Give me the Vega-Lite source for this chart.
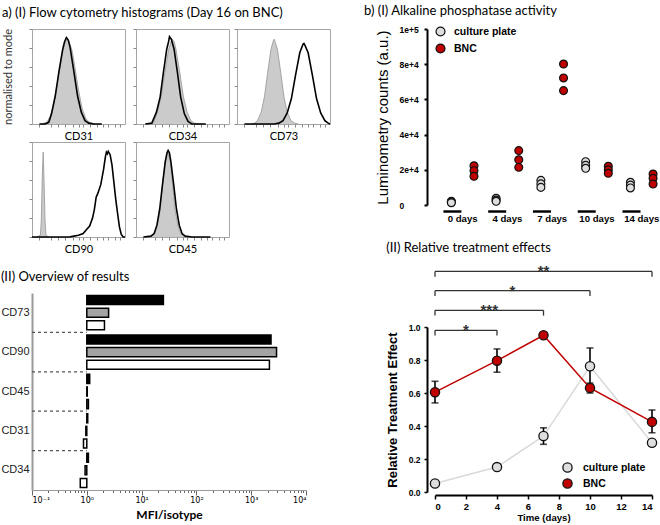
{
"$schema": "https://vega.github.io/schema/vega-lite/v6.json",
"padding": {"left": 0, "top": 5, "right": 0, "bottom": 0},
"config": {
 "font": "Liberation Sans",
 "view": {"stroke": null},
 "axis": {"grid": false, "labelColor": "black", "titleColor": "black"},
 "axisY": {"labelOverlap": false},
 "title": {"font": "Lato", "fontSize": 13, "fontWeight": "normal", "anchor": "start", "color": "black"}
},
"datasets": {
 "hist": [
  {"m":"CD31","s":"i","x":10,"y":0},{"m":"CD31","s":"i","x":16,"y":2},{"m":"CD31","s":"i","x":20,"y":10},{"m":"CD31","s":"i","x":25,"y":33},{"m":"CD31","s":"i","x":29,"y":60},{"m":"CD31","s":"i","x":32,"y":80},{"m":"CD31","s":"i","x":35,"y":94},{"m":"CD31","s":"i","x":37,"y":99},{"m":"CD31","s":"i","x":38,"y":100},{"m":"CD31","s":"i","x":40,"y":97},{"m":"CD31","s":"i","x":43,"y":87},{"m":"CD31","s":"i","x":46,"y":68},{"m":"CD31","s":"i","x":50,"y":40},{"m":"CD31","s":"i","x":54,"y":18},{"m":"CD31","s":"i","x":58,"y":6},{"m":"CD31","s":"i","x":62,"y":2},{"m":"CD31","s":"i","x":68,"y":0},
  {"m":"CD31","s":"s","x":8,"y":0},{"m":"CD31","s":"s","x":14,"y":0},{"m":"CD31","s":"s","x":18,"y":2},{"m":"CD31","s":"s","x":21,"y":12},{"m":"CD31","s":"s","x":25,"y":33},{"m":"CD31","s":"s","x":29,"y":62},{"m":"CD31","s":"s","x":33,"y":88},{"m":"CD31","s":"s","x":35,"y":97},{"m":"CD31","s":"s","x":37,"y":102},{"m":"CD31","s":"s","x":39,"y":99},{"m":"CD31","s":"s","x":41,"y":90},{"m":"CD31","s":"s","x":45,"y":62},{"m":"CD31","s":"s","x":49,"y":33},{"m":"CD31","s":"s","x":53,"y":14},{"m":"CD31","s":"s","x":57,"y":4},{"m":"CD31","s":"s","x":61,"y":1},{"m":"CD31","s":"s","x":66,"y":0},{"m":"CD31","s":"s","x":75,"y":0},
  {"m":"CD34","s":"i","x":14,"y":0},{"m":"CD34","s":"i","x":19,"y":2},{"m":"CD34","s":"i","x":23,"y":14},{"m":"CD34","s":"i","x":27,"y":32},{"m":"CD34","s":"i","x":31,"y":61},{"m":"CD34","s":"i","x":35,"y":88},{"m":"CD34","s":"i","x":38,"y":98},{"m":"CD34","s":"i","x":39,"y":100},{"m":"CD34","s":"i","x":41,"y":97},{"m":"CD34","s":"i","x":43,"y":88},{"m":"CD34","s":"i","x":47,"y":61},{"m":"CD34","s":"i","x":51,"y":32},{"m":"CD34","s":"i","x":55,"y":14},{"m":"CD34","s":"i","x":59,"y":4},{"m":"CD34","s":"i","x":63,"y":1},{"m":"CD34","s":"i","x":70,"y":0},
  {"m":"CD34","s":"s","x":10,"y":0},{"m":"CD34","s":"s","x":17,"y":1},{"m":"CD34","s":"s","x":22,"y":14},{"m":"CD34","s":"s","x":26,"y":32},{"m":"CD34","s":"s","x":29.5,"y":61},{"m":"CD34","s":"s","x":33,"y":88},{"m":"CD34","s":"s","x":35,"y":97},{"m":"CD34","s":"s","x":36,"y":103},{"m":"CD34","s":"s","x":38,"y":100},{"m":"CD34","s":"s","x":41,"y":88},{"m":"CD34","s":"s","x":44.5,"y":61},{"m":"CD34","s":"s","x":48,"y":32},{"m":"CD34","s":"s","x":52,"y":12},{"m":"CD34","s":"s","x":56,"y":3},{"m":"CD34","s":"s","x":60,"y":0},{"m":"CD34","s":"s","x":75,"y":0},
  {"m":"CD73","s":"i","x":15,"y":0},{"m":"CD73","s":"i","x":19,"y":1},{"m":"CD73","s":"i","x":22,"y":4},{"m":"CD73","s":"i","x":26,"y":14},{"m":"CD73","s":"i","x":29.5,"y":32},{"m":"CD73","s":"i","x":33,"y":61},{"m":"CD73","s":"i","x":36.5,"y":88},{"m":"CD73","s":"i","x":39,"y":98},{"m":"CD73","s":"i","x":40,"y":100},{"m":"CD73","s":"i","x":41,"y":97},{"m":"CD73","s":"i","x":43.5,"y":88},{"m":"CD73","s":"i","x":47,"y":61},{"m":"CD73","s":"i","x":50.5,"y":32},{"m":"CD73","s":"i","x":54,"y":14},{"m":"CD73","s":"i","x":58,"y":4},{"m":"CD73","s":"i","x":62,"y":1},{"m":"CD73","s":"i","x":66,"y":0},
  {"m":"CD73","s":"s","x":8,"y":0},{"m":"CD73","s":"s","x":40,"y":0},{"m":"CD73","s":"s","x":45,"y":1},{"m":"CD73","s":"s","x":49.5,"y":4},{"m":"CD73","s":"s","x":54,"y":13},{"m":"CD73","s":"s","x":58.5,"y":30},{"m":"CD73","s":"s","x":63,"y":58},{"m":"CD73","s":"s","x":67.5,"y":84},{"m":"CD73","s":"s","x":71,"y":94},{"m":"CD73","s":"s","x":72,"y":95},{"m":"CD73","s":"s","x":73,"y":93},{"m":"CD73","s":"s","x":76.5,"y":84},{"m":"CD73","s":"s","x":81,"y":58},{"m":"CD73","s":"s","x":85.5,"y":30},{"m":"CD73","s":"s","x":90,"y":13},{"m":"CD73","s":"s","x":94.5,"y":4},{"m":"CD73","s":"s","x":98,"y":1},{"m":"CD73","s":"s","x":100,"y":0},
  {"m":"CD90","s":"i","x":5,"y":0},{"m":"CD90","s":"i","x":9,"y":2},{"m":"CD90","s":"i","x":10,"y":20},{"m":"CD90","s":"i","x":11,"y":70},{"m":"CD90","s":"i","x":12,"y":100},{"m":"CD90","s":"i","x":13,"y":65},{"m":"CD90","s":"i","x":14,"y":20},{"m":"CD90","s":"i","x":15,"y":3},{"m":"CD90","s":"i","x":17,"y":0},
  {"m":"CD90","s":"s","x":0,"y":0},{"m":"CD90","s":"s","x":40,"y":0},{"m":"CD90","s":"s","x":45,"y":1},{"m":"CD90","s":"s","x":50,"y":2},{"m":"CD90","s":"s","x":55,"y":4},{"m":"CD90","s":"s","x":58,"y":8},{"m":"CD90","s":"s","x":62,"y":13},{"m":"CD90","s":"s","x":65,"y":22},{"m":"CD90","s":"s","x":67,"y":32},{"m":"CD90","s":"s","x":69,"y":47},{"m":"CD90","s":"s","x":71,"y":52},{"m":"CD90","s":"s","x":74,"y":62},{"m":"CD90","s":"s","x":77,"y":80},{"m":"CD90","s":"s","x":79,"y":95},{"m":"CD90","s":"s","x":80,"y":100},{"m":"CD90","s":"s","x":81,"y":98},{"m":"CD90","s":"s","x":82,"y":101},{"m":"CD90","s":"s","x":84,"y":97},{"m":"CD90","s":"s","x":86,"y":85},{"m":"CD90","s":"s","x":88,"y":65},{"m":"CD90","s":"s","x":90,"y":45},{"m":"CD90","s":"s","x":92,"y":28},{"m":"CD90","s":"s","x":94,"y":12},{"m":"CD90","s":"s","x":96,"y":3},{"m":"CD90","s":"s","x":98,"y":0},{"m":"CD90","s":"s","x":100,"y":0},
  {"m":"CD45","s":"i","x":12,"y":0},{"m":"CD45","s":"i","x":17,"y":1},{"m":"CD45","s":"i","x":20,"y":4},{"m":"CD45","s":"i","x":23,"y":14},{"m":"CD45","s":"i","x":26,"y":32},{"m":"CD45","s":"i","x":28.5,"y":61},{"m":"CD45","s":"i","x":31,"y":88},{"m":"CD45","s":"i","x":33,"y":98},{"m":"CD45","s":"i","x":34,"y":100},{"m":"CD45","s":"i","x":35,"y":97},{"m":"CD45","s":"i","x":37,"y":88},{"m":"CD45","s":"i","x":39.5,"y":61},{"m":"CD45","s":"i","x":42,"y":32},{"m":"CD45","s":"i","x":45,"y":14},{"m":"CD45","s":"i","x":48,"y":4},{"m":"CD45","s":"i","x":51,"y":1},{"m":"CD45","s":"i","x":56,"y":0},
  {"m":"CD45","s":"s","x":8,"y":0},{"m":"CD45","s":"s","x":16,"y":1},{"m":"CD45","s":"s","x":19.5,"y":4},{"m":"CD45","s":"s","x":22.5,"y":14},{"m":"CD45","s":"s","x":25.5,"y":33},{"m":"CD45","s":"s","x":28.5,"y":62},{"m":"CD45","s":"s","x":31.5,"y":89},{"m":"CD45","s":"s","x":33.5,"y":100},{"m":"CD45","s":"s","x":34.5,"y":102},{"m":"CD45","s":"s","x":36,"y":99},{"m":"CD45","s":"s","x":37.5,"y":89},{"m":"CD45","s":"s","x":40.5,"y":62},{"m":"CD45","s":"s","x":43.5,"y":33},{"m":"CD45","s":"s","x":46.5,"y":14},{"m":"CD45","s":"s","x":49.5,"y":4},{"m":"CD45","s":"s","x":53,"y":1},{"m":"CD45","s":"s","x":60,"y":0},{"m":"CD45","s":"s","x":80,"y":0}
 ],
 "bars": [
  {"marker":"CD73","g":"a","v":25},{"marker":"CD73","g":"b","v":2.5},{"marker":"CD73","g":"c","v":2.1},
  {"marker":"CD90","g":"a","v":2300},{"marker":"CD90","g":"b","v":2900},{"marker":"CD90","g":"c","v":2150},
  {"marker":"CD45","g":"a","v":1.13},{"marker":"CD45","g":"b","v":1.02},{"marker":"CD45","g":"c","v":1.07},
  {"marker":"CD31","g":"a","v":1.04},{"marker":"CD31","g":"b","v":0.96},{"marker":"CD31","g":"c","v":0.87},
  {"marker":"CD34","g":"a","v":1.07},{"marker":"CD34","g":"b","v":0.93},{"marker":"CD34","g":"c","v":0.76}
 ],
 "seps": [{"marker":"CD73"},{"marker":"CD90"},{"marker":"CD45"},{"marker":"CD31"}],
 "alp": [
  {"day":"0 days","grp":"culture plate","v":2100},{"day":"0 days","grp":"culture plate","v":1700},{"day":"0 days","grp":"culture plate","v":1300},
  {"day":"0 days","grp":"BNC","v":22300},{"day":"0 days","grp":"BNC","v":19500},{"day":"0 days","grp":"BNC","v":16300},
  {"day":"4 days","grp":"culture plate","v":3800},{"day":"4 days","grp":"culture plate","v":2800},{"day":"4 days","grp":"culture plate","v":2100},
  {"day":"4 days","grp":"BNC","v":30900},{"day":"4 days","grp":"BNC","v":25700},{"day":"4 days","grp":"BNC","v":21400},
  {"day":"7 days","grp":"culture plate","v":14000},{"day":"7 days","grp":"culture plate","v":12000},{"day":"7 days","grp":"culture plate","v":10000},
  {"day":"7 days","grp":"BNC","v":80100},{"day":"7 days","grp":"BNC","v":72200},{"day":"7 days","grp":"BNC","v":65000},
  {"day":"10 days","grp":"culture plate","v":24600},{"day":"10 days","grp":"culture plate","v":22500},{"day":"10 days","grp":"culture plate","v":20850},
  {"day":"10 days","grp":"BNC","v":22000},{"day":"10 days","grp":"BNC","v":20000},{"day":"10 days","grp":"BNC","v":18000},
  {"day":"14 days","grp":"culture plate","v":12900},{"day":"14 days","grp":"culture plate","v":11300},{"day":"14 days","grp":"culture plate","v":9700},
  {"day":"14 days","grp":"BNC","v":17600},{"day":"14 days","grp":"BNC","v":15200},{"day":"14 days","grp":"BNC","v":11900}
 ],
 "days": [{"day":"0 days"},{"day":"4 days"},{"day":"7 days"},{"day":"10 days"},{"day":"14 days"}],
 "rte": [
  {"t":0,"grp":"culture plate","m":0.052},
  {"t":4,"grp":"culture plate","m":0.151},
  {"t":7,"grp":"culture plate","m":0.339,"lo":0.289,"hi":0.389},
  {"t":10,"grp":"culture plate","m":0.762,"lo":0.65,"hi":0.873},
  {"t":14,"grp":"culture plate","m":0.298,"lo":0.28,"hi":0.315},
  {"t":0,"grp":"BNC","m":0.605,"lo":0.54,"hi":0.671},
  {"t":4,"grp":"BNC","m":0.796,"lo":0.726,"hi":0.867},
  {"t":7,"grp":"BNC","m":0.95,"lo":0.944,"hi":0.956},
  {"t":10,"grp":"BNC","m":0.631,"lo":0.6,"hi":0.66},
  {"t":14,"grp":"BNC","m":0.425,"lo":0.359,"hi":0.497}
 ],
 "brk": [
  {"t":0,"t2":4,"tm":2,"y":0.98,"yb":0.948,"lab":"*"},
  {"t":0,"t2":7,"tm":3.5,"y":1.101,"yb":1.069,"lab":"***"},
  {"t":0,"t2":10,"tm":5,"y":1.22,"yb":1.188,"lab":"*"},
  {"t":0,"t2":14,"tm":7,"y":1.337,"yb":1.305,"lab":"**"}
 ]
},
"resolve": {"scale": {"x": "independent", "y": "independent", "fill": "independent", "color": "independent"}},
"align": "none",
"spacing": 30,
"hconcat": [
 {
  "spacing": 16,
  "align": "none",
  "resolve": {"scale": {"x": "independent", "y": "independent", "fill": "independent"}},
  "vconcat": [
   {
    "title": {"text": "a)    (I) Flow cytometry histograms (Day 16 on BNC)", "offset": 8},
    "columns": 3,
    "align": "each",
    "spacing": {"row": -15, "column": 3},
    "resolve": {"scale": {"x": "independent", "y": "independent"}},
    "concat": [
     {"width": 93, "height": 95, "view": {"stroke": "#a6a6a6"}, "data": {"name": "hist"}, "transform": [{"filter": "datum.m == 'CD31'"}],
      "encoding": {
       "x": {"field": "x", "type": "quantitative", "scale": {"domain": [0, 100], "nice": false}, "axis": {"title": "CD31", "labels": false, "domain": false, "tickSize": 3, "tickColor": "#888", "tickCount": 30, "values": [8, 20, 28, 35, 44, 50, 55, 62, 70, 76, 82, 89, 95], "titleFont": "Lato", "titleFontSize": 11, "titleFontWeight": "normal", "titlePadding": 3}},
       "y": {"field": "y", "type": "quantitative", "scale": {"domain": [0, 112], "nice": false}, "axis": {"title": "normalised to mode", "labels": false, "domain": false, "tickSize": 3, "tickColor": "#888", "tickCount": 10, "values": [0, 22.4, 44.8, 67.2, 89.6, 112], "titleFont": "Lato", "titleFontSize": 11, "titleFontWeight": "normal", "titleColor": "#333", "titlePadding": 15}}
      },
      "layer": [
       {"transform": [{"filter": "datum.s == 'i'"}], "mark": {"type": "area", "color": "#b5b5b5", "line": {"color": "#8a8a8a", "strokeWidth": 0.7}}},
       {"transform": [{"filter": "datum.s == 's'"}], "mark": {"type": "line", "color": "black", "strokeWidth": 1.6}}
      ]},
     {"width": 93, "height": 95, "view": {"stroke": "#a6a6a6"}, "data": {"name": "hist"}, "transform": [{"filter": "datum.m == 'CD34'"}],
      "encoding": {
       "x": {"field": "x", "type": "quantitative", "scale": {"domain": [0, 100], "nice": false}, "axis": {"title": "CD34", "labels": false, "domain": false, "tickSize": 3, "tickColor": "#888", "tickCount": 30, "values": [8, 20, 28, 35, 44, 50, 55, 62, 70, 76, 82, 89, 95], "titleFont": "Lato", "titleFontSize": 11, "titleFontWeight": "normal", "titlePadding": 3}},
       "y": {"field": "y", "type": "quantitative", "scale": {"domain": [0, 112], "nice": false}, "axis": {"title": null, "labels": false, "domain": false, "tickSize": 3, "tickColor": "#888", "tickCount": 10, "values": [0, 22.4, 44.8, 67.2, 89.6, 112]}}
      },
      "layer": [
       {"transform": [{"filter": "datum.s == 'i'"}], "mark": {"type": "area", "color": "#b5b5b5", "line": {"color": "#8a8a8a", "strokeWidth": 0.7}}},
       {"transform": [{"filter": "datum.s == 's'"}], "mark": {"type": "line", "color": "black", "strokeWidth": 1.6}}
      ]},
     {"width": 93, "height": 95, "view": {"stroke": "#a6a6a6"}, "data": {"name": "hist"}, "transform": [{"filter": "datum.m == 'CD73'"}],
      "encoding": {
       "x": {"field": "x", "type": "quantitative", "scale": {"domain": [0, 100], "nice": false}, "axis": {"title": "CD73", "labels": false, "domain": false, "tickSize": 3, "tickColor": "#888", "tickCount": 30, "values": [8, 20, 28, 35, 44, 50, 55, 62, 70, 76, 82, 89, 95], "titleFont": "Lato", "titleFontSize": 11, "titleFontWeight": "normal", "titlePadding": 3}},
       "y": {"field": "y", "type": "quantitative", "scale": {"domain": [0, 112], "nice": false}, "axis": {"title": null, "labels": false, "domain": false, "tickSize": 3, "tickColor": "#888", "tickCount": 10, "values": [0, 22.4, 44.8, 67.2, 89.6, 112]}}
      },
      "layer": [
       {"transform": [{"filter": "datum.s == 'i'"}], "mark": {"type": "area", "color": "#b5b5b5", "line": {"color": "#8a8a8a", "strokeWidth": 0.7}}},
       {"transform": [{"filter": "datum.s == 's'"}], "mark": {"type": "line", "color": "black", "strokeWidth": 1.6}}
      ]},
     {"width": 93, "height": 95, "view": {"stroke": "#a6a6a6"}, "data": {"name": "hist"}, "transform": [{"filter": "datum.m == 'CD90'"}],
      "encoding": {
       "x": {"field": "x", "type": "quantitative", "scale": {"domain": [0, 100], "nice": false}, "axis": {"title": "CD90", "labels": false, "domain": false, "tickSize": 3, "tickColor": "#888", "tickCount": 30, "values": [8, 20, 28, 35, 44, 50, 55, 62, 70, 76, 82, 89, 95], "titleFont": "Lato", "titleFontSize": 11, "titleFontWeight": "normal", "titlePadding": 3}},
       "y": {"field": "y", "type": "quantitative", "scale": {"domain": [0, 112], "nice": false}, "axis": {"title": null, "labels": false, "domain": false, "tickSize": 3, "tickColor": "#888", "tickCount": 10, "values": [0, 22.4, 44.8, 67.2, 89.6, 112]}}
      },
      "layer": [
       {"transform": [{"filter": "datum.s == 'i'"}], "mark": {"type": "area", "color": "#b5b5b5", "line": {"color": "#8a8a8a", "strokeWidth": 0.7}}},
       {"transform": [{"filter": "datum.s == 's'"}], "mark": {"type": "line", "color": "black", "strokeWidth": 1.6}}
      ]},
     {"width": 93, "height": 95, "view": {"stroke": "#a6a6a6"}, "data": {"name": "hist"}, "transform": [{"filter": "datum.m == 'CD45'"}],
      "encoding": {
       "x": {"field": "x", "type": "quantitative", "scale": {"domain": [0, 100], "nice": false}, "axis": {"title": "CD45", "labels": false, "domain": false, "tickSize": 3, "tickColor": "#888", "tickCount": 30, "values": [8, 20, 28, 35, 44, 50, 55, 62, 70, 76, 82, 89, 95], "titleFont": "Lato", "titleFontSize": 11, "titleFontWeight": "normal", "titlePadding": 3}},
       "y": {"field": "y", "type": "quantitative", "scale": {"domain": [0, 112], "nice": false}, "axis": {"title": null, "labels": false, "domain": false, "tickSize": 3, "tickColor": "#888", "tickCount": 10, "values": [0, 22.4, 44.8, 67.2, 89.6, 112]}}
      },
      "layer": [
       {"transform": [{"filter": "datum.s == 'i'"}], "mark": {"type": "area", "color": "#b5b5b5", "line": {"color": "#8a8a8a", "strokeWidth": 0.7}}},
       {"transform": [{"filter": "datum.s == 's'"}], "mark": {"type": "line", "color": "black", "strokeWidth": 1.6}}
      ]}
    ]
   },
   {
    "title": {"text": "(II) Overview of results", "offset": 9},
    "width": 274, "height": 197,
    "layer": [
     {"data": {"name": "bars"}, "mark": {"type": "bar", "stroke": "black", "strokeWidth": 1.5},
      "encoding": {
       "y": {"field": "marker", "type": "nominal", "sort": ["CD73", "CD90", "CD45", "CD31", "CD34"], "scale": {"paddingInner": 0, "paddingOuter": 0}, "axis": {"title": null, "ticks": false, "labelFontSize": 11, "labelPadding": 3, "labelColor": "#222", "domainColor": "#999", "domainWidth": 2}},
       "yOffset": {"field": "g", "sort": ["a", "b", "c"], "scale": {"paddingInner": 0.28, "paddingOuter": 0.2}},
       "x": {"field": "v", "type": "quantitative", "scale": {"type": "log", "domain": [0.1, 10000]},
             "axis": {"title": "MFI/isotype", "titleFont": "Lato", "titleFontSize": 12, "titleFontWeight": "bold", "titlePadding": 5, "tickCount": 100,
                      "values": [0.1,0.2,0.3,0.4,0.5,0.6,0.7,0.8,0.9,1,2,3,4,5,6,7,8,9,10,20,30,40,50,60,70,80,90,100,200,300,400,500,600,700,800,900,1000,2000,3000,4000,5000,6000,7000,8000,9000,10000],
                      "labelExpr": "datum.value == 0.1 ? '10⁻¹' : datum.value == 1 ? '10⁰' : datum.value == 10 ? '10¹' : datum.value == 100 ? '10²' : datum.value == 1000 ? '10³' : datum.value == 10000 ? '10⁴' : ''",
                      "labelFont": "DejaVu Sans", "labelFontSize": 8, "labelPadding": 1, "labelOverlap": false, "labelBound": false,
                      "tickSize": {"condition": {"test": "indexof([0.1,1,10,100,1000,10000], datum.value) >= 0", "value": 5}, "value": 2.5},
                      "tickColor": "#666", "domainColor": "#999"}},
       "x2": {"datum": 1},
       "fill": {"field": "g", "type": "nominal", "scale": {"domain": ["a", "b", "c"], "range": ["black", "#a3a3a3", "white"]}, "legend": null}
      }},
     {"data": {"name": "seps"}, "mark": {"type": "rule", "strokeDash": [3, 3], "color": "#555", "strokeWidth": 1.2},
      "encoding": {
       "y": {"field": "marker", "type": "nominal", "sort": ["CD73", "CD90", "CD45", "CD31", "CD34"], "bandPosition": 1},
       "x": {"datum": 0.1},
       "x2": {"datum": 1}
      }}
    ]
   }
  ]
 },
 {
  "spacing": 19,
  "resolve": {"scale": {"x": "independent", "y": "independent", "fill": "independent", "color": "independent"}},
  "vconcat": [
   {
    "title": {"text": "b)    (I) Alkaline phosphatase activity", "offset": 7, "dx": -11},
    "width": 226, "height": 176,
    "layer": [
     {"data": {"name": "alp"}, "mark": {"type": "circle", "size": 62, "stroke": "#111", "strokeWidth": 1.2, "opacity": 1},
      "encoding": {
       "x": {"field": "day", "type": "nominal", "sort": ["0 days", "4 days", "7 days", "10 days", "14 days"], "scale": {"paddingInner": 0.14, "paddingOuter": 0.094, "align": 1},
             "axis": {"title": null, "domain": false, "ticks": false, "labelAngle": 0, "labelFontWeight": "bold", "labelFontSize": 9.6, "labelPadding": 8}},
       "xOffset": {"field": "grp", "sort": ["culture plate", "BNC"], "scale": {"type": "point", "padding": 0.35}},
       "y": {"field": "v", "type": "quantitative", "scale": {"domain": [0, 100000], "nice": false},
             "axis": {"title": "Luminometry counts (a.u.)", "titleFontSize": 15, "titleFontWeight": "normal", "titlePadding": 9,
                      "values": [0, 20000, 40000, 60000, 80000, 100000], "tickCount": 10,
                      "labelExpr": "datum.value == 0 ? '0' : datum.value == 100000 ? '1e+5' : format(datum.value / 10000, 'd') + 'e+4'",
                      "labelOverlap": false, "labelAlign": "left",
                      "labelFontSize": 8.5, "labelFontWeight": "bold", "domainColor": "black", "domainWidth": 2, "tickColor": "black", "tickWidth": 2, "tickSize": 3, "labelPadding": 25, "offset": 8}},
       "fill": {"field": "grp", "type": "nominal", "scale": {"domain": ["culture plate", "BNC"], "range": ["#dedede", "#c00000"]},
                "legend": {"title": null, "orient": "none", "legendX": 0, "legendY": -3, "labelFontSize": 10.5, "labelFontWeight": "bold", "symbolType": "circle", "symbolSize": 80, "symbolStrokeColor": "#111", "symbolStrokeWidth": 1.2, "rowPadding": 2, "labelOffset": 8}}
      }},
     {"data": {"name": "days"}, "mark": {"type": "bar", "color": "black", "width": {"band": 1}},
      "encoding": {
       "x": {"field": "day", "type": "nominal", "sort": ["0 days", "4 days", "7 days", "10 days", "14 days"]},
       "y": {"datum": -3000},
       "y2": {"datum": -4400}
      }}
    ]
   },
   {
    "title": {"text": "(II) Relative treatment effects", "offset": 9},
    "width": 217, "height": 165,
    "encoding": {
     "x": {"field": "t", "type": "quantitative", "title": "Time (days)", "scale": {"domain": [0, 14], "nice": false},
           "axis": {"values": [0, 2, 4, 6, 8, 10, 12, 14], "tickCount": 20, "format": "d", "labelFontSize": 9.5, "labelFontWeight": "bold", "titleFontSize": 9.6, "titleFontWeight": "bold", "titlePadding": 2, "domainColor": "black", "domainWidth": 2, "tickColor": "black", "tickWidth": 1.5, "tickSize": 4, "offset": 3}}
    },
    "layer": [
     {"data": {"name": "rte"}, "transform": [{"filter": "datum.grp == 'culture plate'"}], "mark": {"type": "line", "strokeWidth": 1.5, "color": "#d9d9d9"},
      "encoding": {
       "y": {"field": "m", "type": "quantitative", "title": "Relative Treatment Effect", "scale": {"domain": [0, 1], "nice": false},
             "axis": {"values": [0, 0.2, 0.4, 0.6, 0.8, 1], "tickCount": 10, "format": ".1f", "labelOverlap": false, "labelFontSize": 8.5, "labelFontWeight": "bold", "titleFontSize": 13, "titleFontWeight": "bold", "titlePadding": 9, "domainColor": "black", "domainWidth": 2, "tickColor": "black", "tickWidth": 1.5, "tickSize": 3, "labelPadding": 4, "offset": 8}}
      }},
     {"data": {"name": "rte"}, "transform": [{"filter": "datum.grp == 'BNC'"}], "mark": {"type": "line", "strokeWidth": 1.5, "color": "#c00000"},
      "encoding": {
       "y": {"field": "m", "type": "quantitative", "title": "Relative Treatment Effect"}
      }},
     {"data": {"name": "rte"}, "transform": [{"filter": "isValid(datum.lo)"}], "mark": {"type": "errorbar", "color": "black", "thickness": 1.6, "size": 7, "ticks": true},
      "encoding": {
       "y": {"field": "lo", "type": "quantitative", "title": "Relative Treatment Effect"},
       "y2": {"field": "hi"}
      }},
     {"data": {"name": "rte"}, "mark": {"type": "circle", "size": 85, "stroke": "#111", "strokeWidth": 1.3, "opacity": 1},
      "encoding": {
       "y": {"field": "m", "type": "quantitative", "title": "Relative Treatment Effect"},
       "fill": {"field": "grp", "type": "nominal", "scale": {"domain": ["culture plate", "BNC"], "range": ["#dedede", "#c00000"]},
                "legend": {"title": null, "orient": "none", "legendX": 127, "legendY": 135, "labelFontSize": 10.5, "labelFontWeight": "bold", "symbolType": "circle", "symbolSize": 85, "symbolStrokeColor": "#111", "symbolStrokeWidth": 1.3, "rowPadding": 1, "labelOffset": 10}}
      }},
     {"data": {"name": "brk"}, "mark": {"type": "rule", "color": "#333", "strokeWidth": 1.3},
      "encoding": {"x2": {"field": "t2"}, "y": {"field": "y", "type": "quantitative", "title": "Relative Treatment Effect"}}},
     {"data": {"name": "brk"}, "mark": {"type": "rule", "color": "#333", "strokeWidth": 1.3},
      "encoding": {"y": {"field": "y", "type": "quantitative", "title": "Relative Treatment Effect"}, "y2": {"field": "yb"}}},
     {"data": {"name": "brk"}, "mark": {"type": "rule", "color": "#333", "strokeWidth": 1.3},
      "encoding": {"x": {"field": "t2", "type": "quantitative", "title": "Time (days)"}, "y": {"field": "y", "type": "quantitative", "title": "Relative Treatment Effect"}, "y2": {"field": "yb"}}},
     {"data": {"name": "brk"}, "mark": {"type": "text", "fontSize": 15, "fontWeight": "bold", "color": "#333", "baseline": "alphabetic", "dy": 5},
      "encoding": {"x": {"field": "tm", "type": "quantitative", "title": "Time (days)"}, "y": {"field": "y", "type": "quantitative", "title": "Relative Treatment Effect"}, "text": {"field": "lab"}}}
    ]
   }
  ]
 }
]
}
